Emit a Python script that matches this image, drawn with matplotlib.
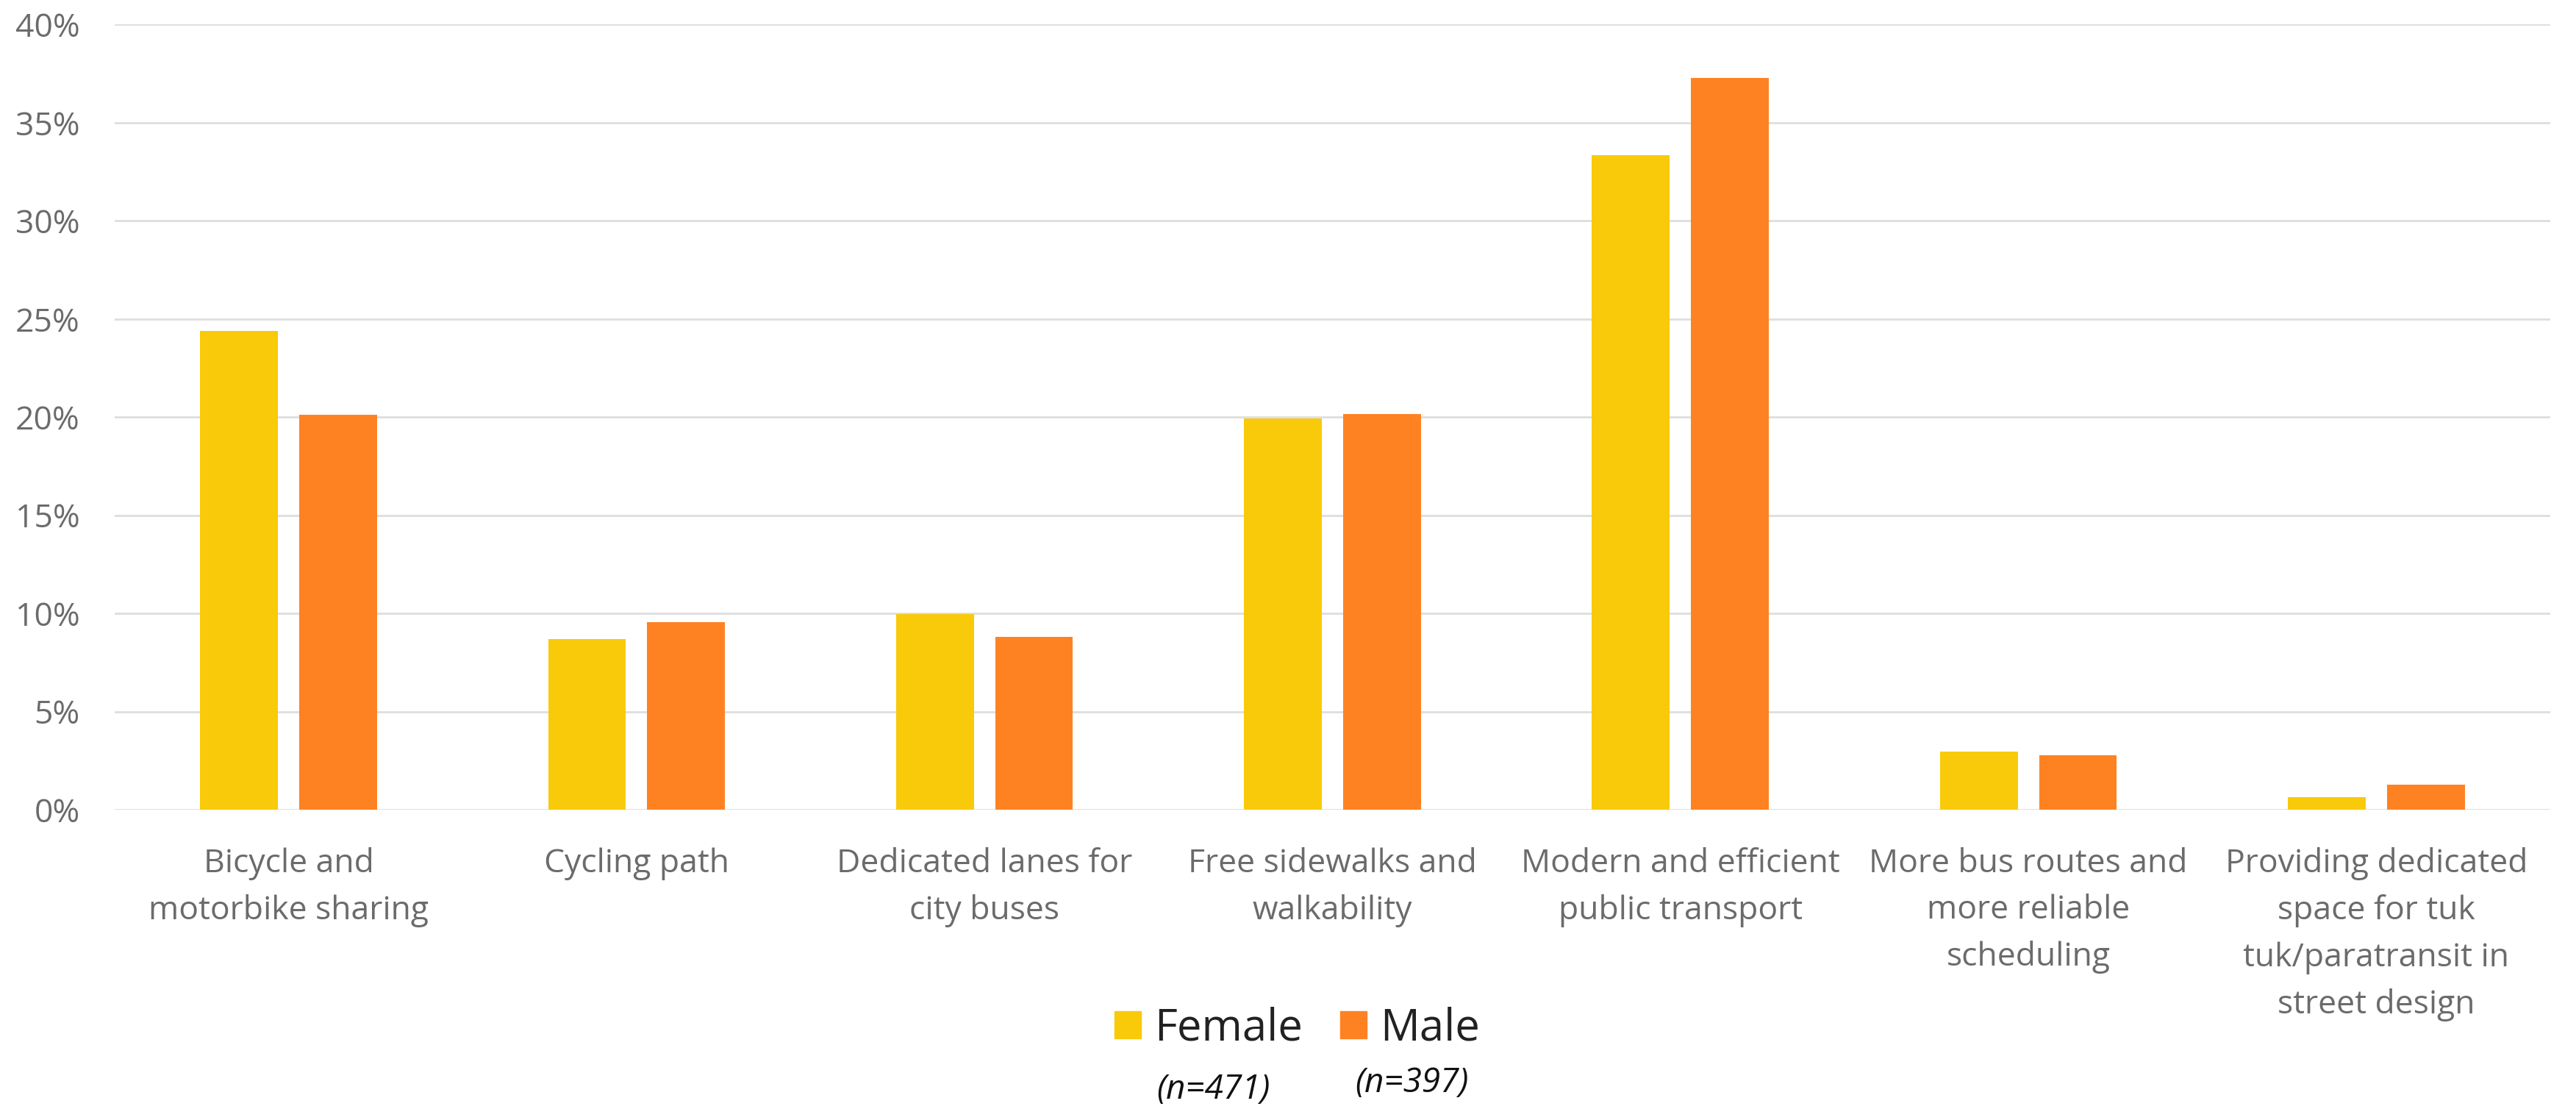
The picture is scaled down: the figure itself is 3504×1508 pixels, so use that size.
import matplotlib.pyplot as plt
from matplotlib.patches import Patch
from matplotlib.ticker import FuncFormatter

# survey shares (%) per improvement, by respondent gender
categories = [
    "Bicycle and\nmotorbike sharing",
    "Cycling path",
    "Dedicated lanes for\ncity buses",
    "Free sidewalks and\nwalkability",
    "Modern and efficient\npublic transport",
    "More bus routes and\nmore reliable\nscheduling",
    "Providing dedicated\nspace for tuk\ntuk/paratransit in\nstreet design",
]
female = [24.38, 8.70, 9.96, 19.95, 33.33, 2.97, 0.64]
male = [20.13, 9.56, 8.80, 20.14, 37.27, 2.77, 1.26]
sample_sizes = {"Female": 471, "Male": 397}

yellow = "#F8CA0A"
orange = "#FF8222"

plt.rcParams['font.family'] = ['Open Sans', 'DejaVu Sans']

fig = plt.figure(figsize=(35.04, 15.08), dpi=100)
ax = fig.add_axes([0.0445, 0.2699, 0.9455, 0.7079])

x = list(range(len(categories)))
w = 0.2235
off = 0.1424
ax.bar([i - off for i in x], female, width=w, color=yellow, zorder=3)
ax.bar([i + off for i in x], male, width=w, color=orange, zorder=3)

ax.set_xlim(-0.5, len(categories) - 0.5)
ax.set_ylim(0, 40)
ax.set_yticks(range(0, 41, 5))
ax.yaxis.set_major_formatter(FuncFormatter(lambda v, p: f"{v:.0f}%"))
ax.grid(axis='y', color='#DEDEDE', linewidth=2.0, zorder=0)
ax.set_axisbelow(True)
for s in ax.spines.values():
    s.set_visible(False)

ax.set_xticks(x)
ax.set_xticklabels(categories, fontsize=32, color='#6B6B6B', linespacing=1.56)
ax.tick_params(axis='x', length=0, pad=37)
ax.tick_params(axis='y', length=0, pad=34, labelsize=32, labelcolor='#6B6B6B')

# legend with sample sizes underneath
handles = [Patch(color=yellow, label="Female"), Patch(color=orange, label="Male")]
fig.legend(handles=handles, loc='center', bbox_to_anchor=(0.5035, 0.0726), ncol=2,
           frameon=False, fontsize=43, handlelength=0.6, handleheight=0.6,
           handletextpad=0.3, columnspacing=0.86, labelcolor='#222222')
fig.text(0.471, 0.0174, f"(n={sample_sizes['Female']})", fontsize=33, style='italic',
         ha='center', va='center', color='#111111')
fig.text(0.548, 0.0233, f"(n={sample_sizes['Male']})", fontsize=33, style='italic',
         ha='center', va='center', color='#111111')

fig.savefig("out.png", dpi=100, facecolor='white')
